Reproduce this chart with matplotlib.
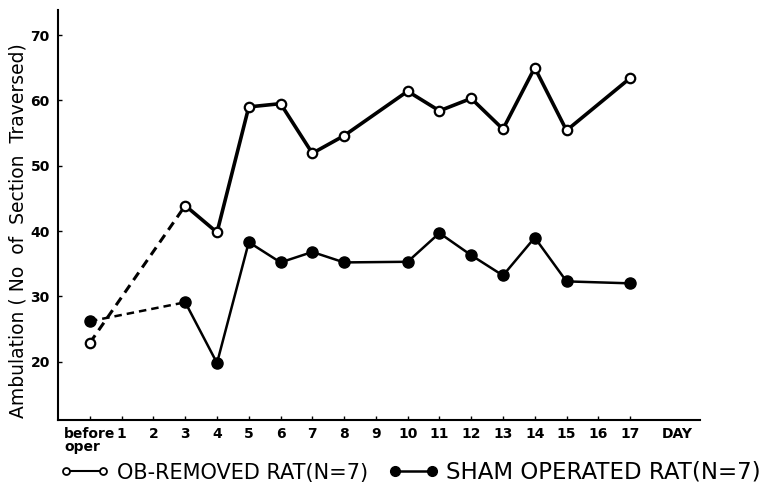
import matplotlib
matplotlib.use('Agg')
import matplotlib.pyplot as plt
from matplotlib.lines import Line2D

# days after operation (0 = before oper)
days = [0, 3, 4, 5, 6, 7, 8, 10, 11, 12, 13, 14, 15, 17]
ob_removed = [22.9, 43.9, 39.8, 59.0, 59.5, 51.9, 54.6, 61.4, 58.4, 60.3, 55.6, 65.0, 55.4, 63.4]
sham = [26.2, 29.1, 19.8, 38.3, 35.2, 36.8, 35.2, 35.3, 39.7, 36.3, 33.2, 39.0, 32.3, 32.0]

xtick_pos = list(range(0, 18)) + [18.5]
xtick_labels = ['before\noper'] + [str(d) for d in range(1, 18)] + ['DAY']
ytick_pos = [20, 30, 40, 50, 60, 70]

plt.rcParams['font.family'] = 'DejaVu Sans'

fig = plt.figure(figsize=(7.65, 4.86), dpi=100)
ax = fig.add_axes([0.076, 0.136, 0.839, 0.843])

# dashed part: before oper -> day 3
ax.plot(days[:2], ob_removed[:2], color='black', lw=2.2, ls=(0, (3, 2)))
ax.plot(days[:2], sham[:2], color='black', lw=1.8, ls=(0, (3, 2)))

# solid part
ax.plot(days[1:], ob_removed[1:], color='black', lw=2.6)
ax.plot(days[1:], sham[1:], color='black', lw=1.8)

ax.plot(days, ob_removed, ls='none', marker='o', ms=6.8, mfc='white', mec='black', mew=1.6, zorder=5)
ax.plot(days, sham, ls='none', marker='o', ms=8, mfc='black', mec='black', zorder=5)

ax.set_xlim(-1.0, 19.2)
ax.set_ylim(11.1, 73.8)

ax.set_yticks(ytick_pos)
ax.set_yticklabels([str(v) for v in ytick_pos], fontsize=10, fontweight='bold')
ax.set_xticks(xtick_pos)
ax.set_xticklabels(xtick_labels, fontsize=10, fontweight='bold', linespacing=0.9)
for lab in ax.get_xticklabels():
    lab.set_multialignment('left')
ax.tick_params(axis='both', direction='in', length=3, width=1)
ax.tick_params(axis='y', pad=6)
ax.tick_params(axis='x', pad=5)
ax.xaxis.get_major_ticks()[-1].tick1line.set_visible(False)

ax.spines['top'].set_visible(False)
ax.spines['right'].set_visible(False)
ax.spines['left'].set_linewidth(1.5)
ax.spines['bottom'].set_linewidth(1.5)

ax.set_ylabel('Ambulation ( No  of  Section  Traversed)', fontsize=13.5)
ax.yaxis.set_label_coords(-0.048, 0.462)

handles = [
    Line2D([], [], color='black', lw=1.5, marker='o', ms=5, mfc='white', mec='black', mew=1.3),
    Line2D([], [], color='black', lw=1.8, marker='o', ms=7, mfc='black', mec='black'),
]
leg = fig.legend(handles, ['OB-REMOVED RAT(N=7)', 'SHAM OPERATED RAT(N=7)'],
                 loc='lower left', bbox_to_anchor=(0.053, -0.034), ncol=2, frameon=False,
                 numpoints=2, fontsize=15, handlelength=2.4, handletextpad=0.35,
                 columnspacing=1.0)
leg.get_texts()[1].set_fontsize(16.5)

fig.savefig('out.png', dpi=100)
